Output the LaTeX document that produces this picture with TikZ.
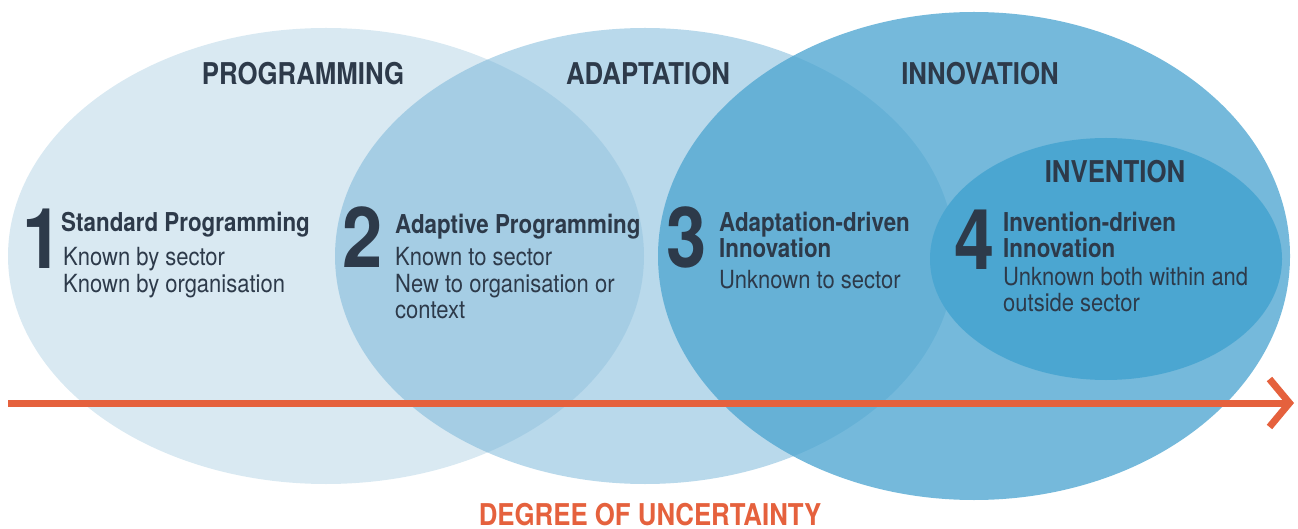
\documentclass[tikz,border=0pt]{standalone}
\usepackage{fontspec}
\setmainfont{TeX Gyre Heros}[FakeStretch=0.88]
\newfontfamily\boldcond{TeX Gyre Heros}[FakeStretch=0.86]
\usetikzlibrary{arrows.meta,positioning}

\definecolor{inktext}{HTML}{2D3A4A}
\definecolor{uncorange}{HTML}{E5613D}
\definecolor{progfill}{HTML}{D9E9F2}
\definecolor{adaptfill}{RGB}{115,179,215}
\definecolor{innofill}{RGB}{82,168,210}
\definecolor{inventfill}{RGB}{75,166,209}

\begin{document}
\begin{tikzpicture}[x=1pt,y=-1pt,
	heading/.style={font=\boldcond\bfseries\fontsize{30}{30}\selectfont, text=inktext, inner sep=0pt, anchor=base},
	bignum/.style={font=\boldcond\bfseries\fontsize{84}{84}\selectfont, text=inktext, inner sep=0pt, anchor=base west},
	steptitle/.style={font=\boldcond\bfseries\fontsize{26}{26}\selectfont, text=inktext, inner sep=0pt, anchor=base west, align=left},
	stepbody/.style={font=\fontsize{25}{26}\selectfont, text=inktext, inner sep=0pt, anchor=base west, align=left}]

	\useasboundingbox (0,0) rectangle (1298,529);

	% the four circles
	\fill[progfill] (326,256) ellipse [x radius=318pt, y radius=228pt];
	\fill[adaptfill, fill opacity=0.5] (645,256) ellipse [x radius=310pt, y radius=228pt];
	\fill[innofill, fill opacity=0.8] (974,256) ellipse [x radius=316pt, y radius=244pt];
	\fill[inventfill] (1106,259) ellipse [x radius=176pt, y radius=121pt];

	% headings
	\node[heading] (prog) at (303,85) {PROGRAMMING};
	\node[heading] (adapt) at (648,85) {ADAPTATION};
	\node[heading] (inno) at (980,85) {INNOVATION};
	\node[heading] (invent) at (1115,183) {INVENTION};

	% steps (multi-line nodes sit on their last line)
	\node[bignum] (num1) at (22,269) {1};
	\node[steptitle] (title1) at (61,232) {Standard Programming};
	\node[stepbody] (body1) at (63,292) {Known by sector\\Known by organisation};

	\node[bignum] (num2) at (342,268) {2};
	\node[steptitle] (title2) at (395,234) {Adaptive Programming};
	\node[stepbody] (body2) at (395,318) {Known to sector\\New to organisation or\\context};

	\node[bignum] (num3) at (666,268) {3};
	\node[steptitle] (title3) at (719,258) {Adaptation-driven\\Innovation};
	\node[stepbody] (body3) at (719,288) {Unknown to sector};

	\node[bignum] (num4) at (954,270) {4};
	\node[steptitle] (title4) at (1003,258) {Invention-driven\\Innovation};
	\node[stepbody] (body4) at (1003,312) {Unknown both within and\\outside sector};

	% uncertainty axis
	\coordinate (axisstart) at (8,403);
	\coordinate (axisend) at (1294,403);
	\draw[uncorange, line width=7pt, -{Straight Barb[length=20pt, width=48pt, line width=7pt]}] (axisstart) -- (axisend);
	\node[heading, text=uncorange] (uncert) at (650,525) {DEGREE OF UNCERTAINTY};
\end{tikzpicture}
\end{document}
